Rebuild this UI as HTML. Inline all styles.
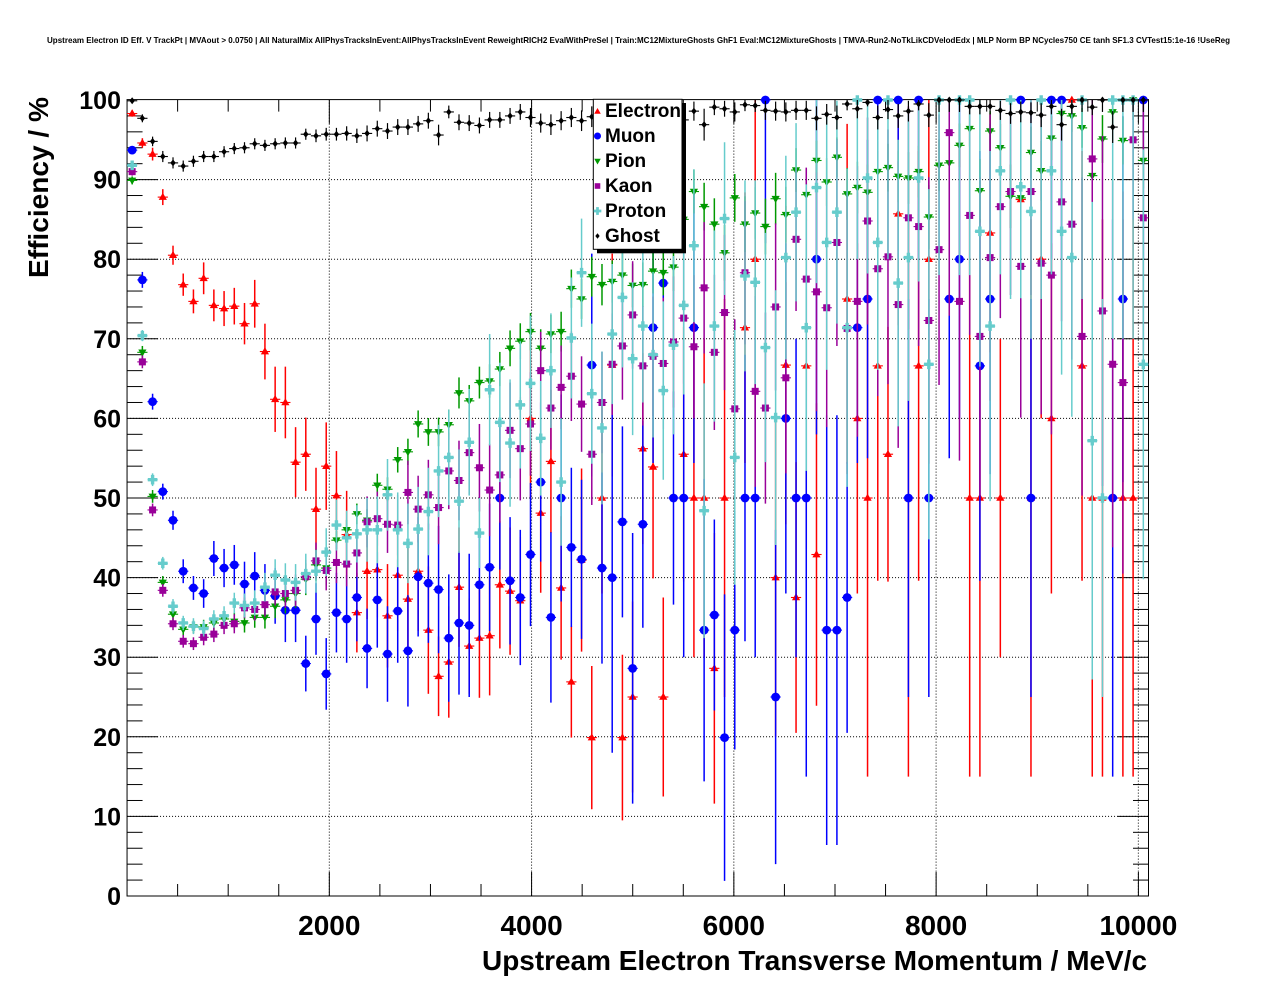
<!DOCTYPE html>
<html>
<head>
<meta charset="utf-8">
<style>
  html,body{margin:0;padding:0;background:#fff;}
  svg{display:block;}
  text{font-family:"Liberation Sans",Arial,Helvetica,sans-serif;font-weight:bold;fill:#000;}
</style>
</head>
<body>
<svg id="c" width="1276" height="996" viewBox="0 0 1276 996" xmlns="http://www.w3.org/2000/svg">
  <rect x="0" y="0" width="1276" height="996" fill="#ffffff"/>
  <text x="47" y="43" font-size="8.5" textLength="1183" lengthAdjust="spacingAndGlyphs">Upstream Electron ID Eff. V TrackPt | MVAout &gt; 0.0750 | All NaturalMix AllPhysTracksInEvent:AllPhysTracksInEvent ReweightRICH2 EvalWithPreSel | Train:MC12MixtureGhosts GhF1 Eval:MC12MixtureGhosts | TMVA-Run2-NoTkLikCDVelodEdx | MLP Norm BP NCycles750 CE tanh SF1.3 CVTest15:1e-16 !UseReg</text>

  <g id="grid" stroke="#000" stroke-width="1" stroke-dasharray="1 2" fill="none">
    <line x1="329.31" y1="99.6" x2="329.31" y2="896"/>
    <line x1="531.57" y1="99.6" x2="531.57" y2="896"/>
    <line x1="733.83" y1="99.6" x2="733.83" y2="896"/>
    <line x1="936.09" y1="99.6" x2="936.09" y2="896"/>
    <line x1="1138.35" y1="99.6" x2="1138.35" y2="896"/>
    <line x1="127.05" y1="816.4" x2="1148.5" y2="816.4"/>
    <line x1="127.05" y1="736.8" x2="1148.5" y2="736.8"/>
    <line x1="127.05" y1="657.2" x2="1148.5" y2="657.2"/>
    <line x1="127.05" y1="577.6" x2="1148.5" y2="577.6"/>
    <line x1="127.05" y1="498" x2="1148.5" y2="498"/>
    <line x1="127.05" y1="418.4" x2="1148.5" y2="418.4"/>
    <line x1="127.05" y1="338.8" x2="1148.5" y2="338.8"/>
    <line x1="127.05" y1="259.2" x2="1148.5" y2="259.2"/>
    <line x1="127.05" y1="179.6" x2="1148.5" y2="179.6"/>
  </g>
  <rect x="127.05" y="99.6" width="1021.45" height="796.4" fill="none" stroke="#000" stroke-width="1"/>
  <g id="ticks" stroke="#000" stroke-width="1"></g>
  <g id="data"></g>

  <!-- y tick labels -->
  <g font-size="25" text-anchor="end">
    <text x="121" y="905">0</text>
    <text x="121" y="825.4">10</text>
    <text x="121" y="745.8">20</text>
    <text x="121" y="666.2">30</text>
    <text x="121" y="586.6">40</text>
    <text x="121" y="507">50</text>
    <text x="121" y="427.4">60</text>
    <text x="121" y="347.8">70</text>
    <text x="121" y="268.2">80</text>
    <text x="121" y="188.6">90</text>
    <text x="121" y="109">100</text>
  </g>
  <!-- x tick labels -->
  <g font-size="28" text-anchor="middle">
    <text x="329.3" y="935">2000</text>
    <text x="531.6" y="935">4000</text>
    <text x="733.8" y="935">6000</text>
    <text x="936.1" y="935">8000</text>
    <text x="1138.4" y="935">10000</text>
  </g>
  <text x="482" y="970" font-size="27.5" textLength="665" lengthAdjust="spacingAndGlyphs">Upstream Electron Transverse Momentum / MeV/c</text>
  <text transform="translate(48,278) rotate(-90)" x="0" y="0" font-size="28" textLength="181" lengthAdjust="spacingAndGlyphs">Efficiency / %</text>

  <!-- legend -->
  <g id="legend">
    <rect x="597" y="103" width="89" height="150.3" fill="#000"/>
    <rect x="593.3" y="99.3" width="88.7" height="150" fill="#fff" stroke="#000" stroke-width="1"/>
    <g font-size="19">
      <text x="605" y="117">Electron</text>
      <text x="605" y="142">Muon</text>
      <text x="605" y="167">Pion</text>
      <text x="605" y="192">Kaon</text>
      <text x="605" y="217">Proton</text>
      <text x="605" y="242">Ghost</text>
    </g>
    <g id="legm"></g>
  </g>
</svg>
<script>
(function(){
const NS="http://www.w3.org/2000/svg";
function el(t,a){const e=document.createElementNS(NS,t);for(const k in a)e.setAttribute(k,a[k]);return e;}
const X0=127.05,BW=10.2138,PX=0.101134;
function X(i){return X0+BW*(i+0.5);}
function XM(m){return X0+PX*m;}
function Y(v){return 896-7.96*v;}

/* ticks */
const tg=document.getElementById('ticks');
for(let k=1;k<=20;k++){
  const x=XM(500*k); const L=(k%4===0)?24:12;
  tg.appendChild(el('line',{x1:x,y1:896,x2:x,y2:896-L}));
  tg.appendChild(el('line',{x1:x,y1:99.6,x2:x,y2:99.6+L}));
}
for(let k=1;k<50;k++){
  const y=Y(2*k); const L=(k%5===0)?31:15.5;
  tg.appendChild(el('line',{x1:127.05,y1:y,x2:127.05+L,y2:y}));
  tg.appendChild(el('line',{x1:1148.5,y1:y,x2:1148.5-L,y2:y}));
}

function mk(t,x,y,s){
  s=s||1;
  if(t==='tu') return el('polygon',{points:[x,y-4.4*s,x-4.1*s,y+2.8*s,x+4.1*s,y+2.8*s].join(' ')});
  if(t==='td') return el('polygon',{points:[x-4.1*s,y-2.8*s,x+4.1*s,y-2.8*s,x,y+4.4*s].join(' ')});
  if(t==='c') return el('circle',{cx:x,cy:y,r:4.4*s});
  if(t==='s') return el('rect',{x:x-3.5*s,y:y-3.5*s,width:7*s,height:7*s});
  if(t==='p'){const a=4.8*s,b=1.7*s;
    return el('path',{d:`M${x-a} ${y-b}H${x-b}V${y-a}H${x+b}V${y-b}H${x+a}V${y+b}H${x+b}V${y+a}H${x-b}V${y+b}H${x-a}Z`});}
  if(t==='d') return el('polygon',{points:[x,y-3.5*s,x+2.7*s,y,x,y+3.5*s,x-2.7*s,y].join(' ')});
}

const E=[[98.3,.4],[94.6,.6],[93.2,.8],[87.8,1],[80.5,1.2],[76.8,1.4],[74.7,1.5],[77.6,2],[74.2,2],[73.8,2.2],
[74.1,2.3],[71.9,2.6],[74.4,3],[68.4,3.5],[62.4,4.1],[62.0,4.5],[54.5,4.4],[55.5,4.6],[48.6,5.2],[54.0,5.5],
[50.3,5.6],[45.4,5.5],[35.6,5],[40.8,6],[41.0,6],[35.2,6.5],[40.3,7],[37.3,7],[40.8,7.5],[33.4,8],
[27.6,5],[29.4,7],[38.8,7.5],[31.4,6],[32.4,7.5],[32.7,7.5],[39.1,8],[38.3,8],[37.1,8],[60,10],
[48.1,10],[54.6,9],[38.7,9],[26.9,7],[42.2,11.5],[19.9,9],[50,12],[66.7,14],[19.9,10.4],[25,12],
[56.2,12],[53.9,14],[25,12.5],null,[55.5,16],[50,20],[50,20],[28.6,17],[50,25],null,
[71.4,17],[80,20],null,[40,20],[66.7,20],[37.5,17],[66.6,23],[42.9,19],null,null,
[75,22],[60,22],[50,35],[66.6,27],[55.5,16],[85.7,14],[50,35],[66.6,27],[80,20],null,
null,null,[50,35],[50,35],[83.3,15],[50,20],null,[87.5,12],[50,35],[80,20],
[60,22],null,[100,20,0],[66.6,27],[50,35],[50,35],null,[50,35],[50,35],null];

const M=[[93.7,.5],[77.4,1],[62.1,1],[50.8,1],[47.2,1.2],[40.8,1.5],[38.7,1.5],[38.0,1.8],[42.4,2.2],[41.2,2.4],
[41.6,2.5],[39.2,2.8],[40.2,3],[38.4,3.3],[37.7,3.5],[35.9,4],[35.9,4],[29.2,3.5],[34.8,4.5],[27.9,4.5],
[35.6,5],[34.8,5.5],[37.5,5.5],[31.1,5],[37.2,6],[30.4,6],[35.8,6.5],[30.8,7],[40.1,7.5],[39.3,7.5],
[38.5,8],[32.4,8],[34.3,9],[34.0,9],[39.1,7],[41.3,8],[50,9],[39.6,8],[37.5,8.5],[42.9,9],
[52,10],[35,10.7],[50,13],[43.8,10],[42.3,10],[66.7,14],[41.2,12],[40,22],[47,12],[28.6,17],
[46.7,13],[71.4,17],[77,10],[50,13.4],[50,20],[71.4,17],[33.4,19],[35.3,12],[19.9,18],[33.4,15],
[50,18],[50,20],[100,18,0],[25,21],[60,22],[50,20],[50,35],[80,22],[33.4,27],[33.4,27],
[37.5,17],[71.4,17],[75,20],[100,20,0],null,[100,20,0],[50,25],[100,20,0],[50,25],null,
[75,20],[80,20],null,[66.6,27],[75,22],null,null,[100,20,0],[50,25],null,
[100,20,0],[100,20,0],null,null,null,null,[50,35],[75,23],null,[100,20,0]];

const P=[[89.9,.5],[68.3,.8],[50.2,.8],[39.4,.8],[35.4,.8],[33.5,.8],[33.8,.8],[33.8,.9],[34.3,1],[34.8,1],
[34.5,1.1],[34.3,1.2],[35,1.3],[35,1.4],[36.4,1.5],[37.2,1.7],[38,1.8],[39.8,2],[41.6,2],[41.2,2.2],
[44.7,2.3],[46,2.5],[48,2.6],[47.2,2.8],[51.6,2.9],[51.1,3],[54.8,3.2],[55.8,3.3],[59.3,3.4],[58.3,3.5],
[58.3,3.6],[59.2,3.8],[63.2,3.9],[62.2,4],[64.5,4],[64.7,4.2],[66.2,4.3],[68.8,4.5],[69.7,4.5],[70.9,4.7],
[68.8,4.8],[70.6,4.8],[70.9,5],[76.3,4.8],[75,5],[77.8,5],[76.8,5.2],[77.2,5.3],[78,5.5],[76.7,5.5],
[76.8,5.6],[78.5,5.6],[78.3,5.7],[79,6],[85,5.5],[88.5,5.5],[86.6,6],[84.4,6.5],[80.8,7],[87.7,6],
[84.4,7],[85.8,6.5],[84.1,7],[87.6,6.5],[85.6,7],[91.2,5.5],[88.1,6.5],[92.4,5],[89.7,6],[92.8,5],
[88.2,6.5],[89,6.5],[88.4,7],[91,6],[91.5,6],[90.4,6.5],[90.2,6.5],[91,6.5],[85.3,8],[91.8,6.5],
[92.1,6.5],[94.3,5.5],[96.4,4.5],[88.6,8],[96.1,5],[94,6],[87.9,8],[87.7,8.5],[93.4,6.5],[91.1,7.5],
[95.2,5.5],[98.3,3.5],[98,4],[96.5,5],[90.5,8],[95.1,6],[98.5,3.5],[94.9,6],[100,5,0],[92.4,7]];

const K=[[91,.5],[67.1,.8],[48.5,.8],[38.4,.8],[34.2,.8],[32,.8],[31.7,.8],[32.5,1],[32.9,1],[34,1.1],
[34.2,1.2],[36.2,1.3],[36,1.4],[36.6,1.5],[38.2,1.7],[38,1.8],[38.4,2],[40.1,2.1],[42.1,2.3],[40.9,2.5],
[41.9,2.6],[41.7,2.8],[43.1,3],[47,3.2],[47.4,3.4],[46.7,3.6],[46.6,3.8],[50.7,4],[48.6,4.2],[50.4,4.4],
[48.8,4.6],[53.4,4.8],[52.2,5],[55.7,5.3],[53.8,5.5],[51,5.8],[52.9,6],[58.5,6],[56.2,6.5],[59.3,6.5],
[66,6.5],[61.3,7],[63.9,7],[65.3,7.5],[61.8,8],[55.5,8.5],[62,8.5],[66.8,8.5],[69.1,9],[73,9],
[66.6,10],[67.8,10],[66.9,11],[69.6,11],[72.6,11],[69,12],[76.4,11],[68.3,13],[73.3,13],[61.2,15],
[78.3,12],[63.4,16],[61.3,16],[74,14],[65.1,16],[82.5,12],[77.5,14],[75.9,15],[73.9,15],[82.1,13],
[71.3,17],[74.7,17],[84.8,13],[78.8,16],[80.3,16],[74.3,18],[85.2,14],[84.1,15],[72.3,18],[81.2,17],
[95.9,23,4],[74.7,20],[85.5,15],[70.3,20],[80.2,18],[86.6,14],[88.5,13],[79.1,19],[88.5,13],[79.5,19],
[78,20],[87.2,15],[84.4,17],[70.3,20],[92.6,12],[73.5,22],[66.8,23],[64.5,24],[95,10,5],[85.2,17]];

const R=[[91.8,.5],[70.4,.7],[52.3,.8],[41.8,.8],[36.4,.9],[34.3,.9],[33.9,1],[33.6,1],[34.8,1.1],[35.2,1.2],
[36.8,1.3],[36.5,1.5],[36.8,1.6],[38.8,1.8],[40.3,2],[39.7,2.1],[39.4,2.3],[40.5,2.5],[40.8,2.7],[43.2,3],
[46.6,3.2],[45,3.4],[45.5,3.6],[46,4],[46,4.2],[50.4,4.5],[46,4.7],[44.3,5],[46.1,5.3],[48.3,5.5],
[53.4,5.8],[55.1,6],[49.6,6.5],[57,6.7],[45.6,4.4],[63.6,7],[59.5,7.5],[56.9,8],[61.7,8],[64.4,8.5],
[57.5,9],[66,9],[52,10],[70.1,9.5],[78.3,8.5],[63.1,11],[58.8,12],[70.6,11],[75.2,11],[67.5,12],
[71.6,12],[68,13],[63.5,14],[69.2,14],[74.2,14],[81.7,12],[48.4,20],[71.6,15],[85.1,12],[55.1,20],
[77.9,15],[77.1,16],[68.9,18],[60.1,20],[80.2,16],[85.9,14],[71.4,18],[89,12],[82.1,16],[85.9,14],
[71.4,20],[100,20,0],[90.2,12],[82.1,16],[100,20,0],[77,18],[80.2,18],[90.2,13],[66.8,22],[100,22,0],
null,[100,22,0],[100,22,0],[83.5,17],[71.6,22],[91.1,13],[100,25,0],[89.1,14],[86,16],[100,25,0],
[91.1,13],[83.5,18],[80.2,20],[100,25,0],[57.2,30],[50,25],[100,30,0],[100,30,0],[100,30,0],[66.8,27]];

const G=[[99.9,.3],[97.7,.5],[94.8,.6],[92.9,.7],[92.1,.7],[91.7,.7],[92.3,.7],[92.9,.7],[92.9,.7],[93.5,.7],
[93.9,.7],[94,.7],[94.5,.7],[94.3,.7],[94.5,.7],[94.6,.7],[94.6,.7],[95.7,.7],[95.5,.8],[95.7,.8],
[95.7,.8],[95.8,.9],[95.5,.9],[95.8,1],[96.4,1],[96.1,1],[96.6,1],[96.6,1],[97,1],[97.4,1],
[95.6,1.3],[98.5,.8],[97.2,1],[97.1,1],[96.8,1],[97.5,1],[97.5,1],[98,1],[98.5,1],[97.8,1.2],
[97.1,1.2],[96.9,1.3],[97.4,1.2],[97.8,1.2],[97.4,1.3],[97.9,1.3],[98,1.2],[98,1.2],[98,1.2],[98,1.2],
[98,1.2],[98,1.2],[98,1.2],[98,1.2],[97.5,1.2],[98.6,1.2],[96.9,2],[99.1,1],[98.9,1],[98.5,1.2],
[99.4,.8],[99.3,.8],[98.7,1.2],[98.6,1.2],[98.5,1.2],[98.7,1.2],[98.7,1.2],[97.7,1.5],[98.2,1.3],[97.8,1.5],
[99.5,.8],[98.9,1.2],[99.7,.5],[97.8,1.5],[98.8,1.2],[98,1.5],[98.6,1.3],[99.5,.8],[98.1,1.5],[100,1.5,0],
[100,1.5,0],[100,1.5,0],[99.2,1],[99.2,1],[99.2,1],[98.7,1.2],[98.3,1.3],[98.5,1.3],[98.4,1.3],[98.1,1.5],
[99.2,1],[96.9,2],[99.2,1],[100,1.5,0],[99.1,1],[100,1.5,0],[96.6,2],[100,1.5,0],[100,1.5,0],[100,1.5,0]];

const S=[
 {c:'#ff0000',m:'tu',d:E},
 {c:'#0000ff',m:'c',d:M},
 {c:'#009900',m:'td',d:P,f:function(i){return i>=20?0.5:1;}},
 {c:'#990099',m:'s',d:K,f:function(i){return (i>=40&&i<66)?0.75:1;}},
 {c:'#66cccc',m:'p',d:R,f:function(i){return (i>=40&&i<66)?0.8:1;}},
 {c:'#000000',m:'d',d:G}
];
const g=document.getElementById('data');
S.forEach(function(s){
  const gv=el('g',{stroke:s.c,'stroke-width':(s.m==='d'?1.2:1.5),fill:'none'});
  const gh=el('g',{stroke:s.c,'stroke-width':1.1,fill:'none'});
  const gm=el('g',{fill:s.c,stroke:'none'});
  s.d.forEach(function(p,i){
    if(!p) return;
    const k=s.f?s.f(i):1;
    const v=p[0], lo=p[1]*k, hi=(p.length>2?p[2]:p[1])*k;
    const x=X(i), y=Y(v);
    const y1=Y(Math.min(100,v+hi)), y2=Y(Math.max(0,v-lo));
    if(y2-y1>0.5) gv.appendChild(el('line',{x1:x,y1:y1,x2:x,y2:y2}));
    gh.appendChild(el('line',{x1:x-5.1,y1:y,x2:x+5.1,y2:y}));
    gm.appendChild(mk(s.m,x,y,1));
  });
  g.appendChild(gv); g.appendChild(gh); g.appendChild(gm);
});
/* legend markers */
const lg=document.getElementById('legm');
const ly=[111.5,136,161,186,211,236];
S.forEach(function(s,j){
  const e=mk(s.m,597.5,ly[j],0.8); e.setAttribute('fill',s.c); lg.appendChild(e);
});
})();
</script>
</body>
</html>
